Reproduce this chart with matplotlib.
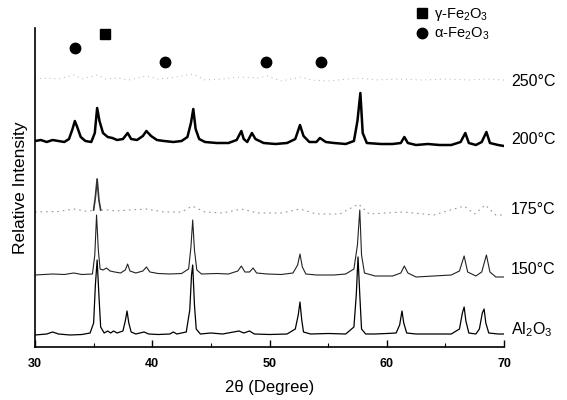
import matplotlib
matplotlib.use("Agg")
import matplotlib.pyplot as plt
from matplotlib.lines import Line2D
from matplotlib.ticker import MultipleLocator

plt.rcParams['font.family'] = ['Liberation Sans', 'DejaVu Sans']
plt.rcParams['mathtext.fontset'] = 'custom'
plt.rcParams['mathtext.rm'] = 'Liberation Sans'
plt.rcParams['mathtext.it'] = 'Liberation Sans:italic'

# ---- data (2theta in degrees, intensity in arb. units) ----
al2o3_x = [30.0, 31.0, 31.5, 32.0, 33.0, 34.0, 34.7, 35.0, 35.15, 35.3, 35.45, 35.6, 35.9,
           36.2, 36.45, 36.7, 37.0, 37.5, 37.7, 37.85, 38.0, 38.2, 38.6, 39.3, 39.7, 40.5,
           41.5, 41.8, 42.1, 42.9, 43.2, 43.35, 43.45, 43.6, 43.75, 44.1, 45.0, 46.0, 47.4,
           47.8, 48.3, 48.7, 50.0, 51.5, 52.2, 52.45, 52.6, 52.75, 52.9, 53.5, 55.0, 56.5,
           57.2, 57.4, 57.55, 57.7, 57.85, 58.2, 59.0, 60.0, 60.8, 61.1, 61.3, 61.45, 61.7,
           62.5, 64.0, 65.5, 66.2, 66.45, 66.6, 66.75, 67.0, 67.6, 67.9, 68.15, 68.3, 68.45,
           68.7, 69.5, 70.0]
al2o3_y = [0, 1, 3, 1, 0, 0.5, 2, 12, 50, 75, 40, 8, 2,
           4, 2, 4, 2, 4, 14, 24, 12, 3, 1, 3, 1, 0.5,
           1, 3, 1, 3, 25, 60, 70, 30, 6, 1, 2, 1, 4,
           2, 4, 1, 0.5, 1, 6, 20, 33, 15, 3, 1, 1.5, 1,
           8, 40, 78, 40, 6, 1, 1, 1.5, 2, 10, 24, 12, 2,
           1, 1, 1, 6, 22, 28, 14, 2, 1, 6, 22, 26, 12,
           2, 1, 1]

t150_x = [30.0, 31.5, 32.5, 33.3, 34.0, 34.9, 35.1, 35.25, 35.4, 35.55, 35.8, 36.1, 36.4,
          36.8, 37.3, 37.7, 37.9, 38.1, 38.6, 39.2, 39.5, 39.8, 40.5, 41.5, 42.5, 43.1,
          43.3, 43.45, 43.6, 43.8, 44.2, 45.5, 46.5, 47.3, 47.6, 47.9, 48.3, 48.6, 48.9,
          49.8, 51.0, 52.0, 52.4, 52.6, 52.8, 53.1, 54.0, 55.5, 56.5, 57.2, 57.5, 57.7,
          57.85, 58.1, 59.0, 60.5, 61.2, 61.5, 61.8, 62.5, 64.0, 65.5, 66.2, 66.6, 66.9,
          67.6, 68.1, 68.5, 68.8, 69.3, 70.0]
t150_y = [0, 1, 0.5, 2, 0.5, 1, 20, 60, 25, 6, 5, 7, 4,
          3, 2, 5, 11, 4, 2, 4, 8, 3, 1.5, 1, 1.5, 6,
          28, 55, 25, 5, 1, 1.5, 1, 4, 9, 3, 3, 7, 2,
          1, 0.5, 2, 10, 21, 8, 1, 0, 0, 1, 6, 30, 65,
          20, 2, -1, -1, 2, 9, 2, -2, -1, 0, 4, 19, 3,
          -1, 3, 20, 3, -2, -2]

t175_x = [30.0, 32.0, 33.3, 34.5, 35.0, 35.15, 35.3, 35.45, 35.6, 36.2, 37.0, 38.0, 39.5,
          41.0, 42.5, 43.4, 44.5, 46.0, 47.6, 49.0, 51.0, 52.6, 54.0, 56.0, 57.6, 58.5,
          61.4, 64.0, 66.6, 67.5, 68.4, 69.3, 70.0]
t175_y = [0, 0.5, 3, 0.5, 2, 15, 33, 12, 2, 2, 1, 2, 3,
          0, 0, 6, 0, -1, 3, -1, -1, 3, -2, -2, 8, -2,
          0, -3, 6, -2, 7, -3, -3]

t200_x = [30.0, 30.5, 31.0, 31.5, 32.0, 32.5, 32.9, 33.2, 33.4, 33.6, 33.9, 34.3, 34.8,
          35.1, 35.3, 35.5, 35.8, 36.2, 36.6, 37.0, 37.5, 37.9, 38.2, 38.7, 39.2, 39.5,
          39.9, 40.4, 41.0, 41.8, 42.5, 43.0, 43.3, 43.5, 43.7, 44.0, 44.5, 45.5, 46.5,
          47.2, 47.6, 47.8, 48.1, 48.5, 48.8, 49.5, 50.5, 51.5, 52.2, 52.6, 52.9, 53.4,
          54.0, 54.3, 54.8, 55.5, 56.5, 57.2, 57.5, 57.75, 57.95, 58.3, 59.5, 60.5, 61.2,
          61.5, 61.8, 62.5, 63.5, 64.5, 65.5, 66.3, 66.7, 67.0, 67.6, 68.1, 68.5, 68.8,
          69.5, 70.0]
t200_y = [0, 1, -1, 1, 0, -1, 2, 12, 20, 14, 4, 0, -1,
          8, 33, 20, 8, 4, 3, 1, 2, 8, 2, 1, 5, 10,
          5, 1, 0, -1, 0, 4, 18, 32, 12, 2, -1, -2, -2,
          1, 10, 2, -1, 8, 2, -2, -3, -2, 2, 16, 5, -1,
          -1, 3, -1, -2, -3, 0, 20, 48, 8, -2, -3, -3, -2,
          4, -2, -4, -3, -4, -4, -1, 8, -2, -4, -1, 9, -2,
          -4, -5]

t250_x = [30.0, 31.0, 32.0, 33.3, 34.0, 35.3, 36.0, 37.0, 38.0, 39.5, 40.5, 41.5, 43.5,
          44.5, 46.0, 47.5, 49.0, 49.8, 51.0, 52.7, 53.5, 55.0, 57.6, 59.0, 61.0, 63.0,
          65.0, 67.0, 68.5, 70.0]
t250_y = [0, 1, 0, 4, 0, 4, 0, 1, -1, 3, 0, 1, 5,
          -1, 0, 2, 1, 3, -2, 2, -1, -2, 1, -1, 0, -1,
          0, -1, 0, -1]

labels = ['Al$_2$O$_3$', '150°C', '175°C', '200°C', '250°C']
alpha_peaks = [33.4, 41.1, 49.7, 54.4]
gamma_peaks = [36.0]

# ---- figure ----
fig = plt.figure(figsize=(5.67, 4.0), dpi=100)
ax = fig.add_axes([35/567, 53/400, 469/567, 319/400])

ax.plot(al2o3_x, [v + 12 for v in al2o3_y], color='black', lw=0.9)
ax.plot(t150_x, [v + 72 for v in t150_y], color='#222222', lw=0.8)
ax.plot(t175_x, [v + 135 for v in t175_y], color='#999999', lw=0.8, ls=(0, (1.5, 3.5)))
# the strong 35 deg reflection of the 175 C pattern is printed solid
ax.plot(t175_x[4:9], [v + 135 for v in t175_y[4:9]], color='#333333', lw=1.2)
ax.plot(t200_x, [v + 206 for v in t200_y], color='black', lw=1.8)
ax.plot(t250_x, [v + 268 for v in t250_y], color='#b0b0b0', lw=0.7, ls=(0, (1, 4)))

# phase markers
ax.plot(alpha_peaks[:1], [299], 'o', color='black', ms=7.5)
ax.plot(alpha_peaks[1:], [285] * 3, 'o', color='black', ms=7.5)
ax.plot(gamma_peaks, [313], 's', color='black', ms=6.5)

# curve labels on the right
for lab, yy in zip(labels, [17, 78, 137, 207, 266]):
    ax.text(70.6, yy, lab, fontsize=11.5, va='center', ha='left', clip_on=False)

ax.set_xlim(30, 70)
ax.set_ylim(0, 319)
ax.xaxis.set_major_locator(MultipleLocator(10))
ax.xaxis.set_minor_locator(MultipleLocator(5))
ax.tick_params(axis='x', which='major', direction='in', length=5, width=1, labelsize=9, pad=8)
ax.tick_params(axis='x', which='minor', direction='in', length=3, width=0.8)
for t in ax.get_xticklabels():
    t.set_fontweight('bold')
ax.set_yticks([])
ax.spines['top'].set_visible(False)
ax.spines['right'].set_visible(False)
ax.spines['left'].set_linewidth(1.2)
ax.spines['bottom'].set_linewidth(1.2)

ax.set_xlabel('2θ (Degree)', fontsize=12, labelpad=7)
ax.set_ylabel('Relative Intensity', fontsize=12.5, labelpad=5)

handles = [Line2D([], [], marker='s', ls='none', color='black', ms=6.5),
           Line2D([], [], marker='o', ls='none', color='black', ms=7.5)]
ax.legend(handles, ['γ-Fe$_2$O$_3$', 'α-Fe$_2$O$_3$'], loc='upper left',
          bbox_to_anchor=(415/567, 1 - 5/400), bbox_transform=fig.transFigure,
          frameon=False, fontsize=10.5, handlelength=0.8, handletextpad=0.4,
          labelspacing=0.15, borderpad=0.1, borderaxespad=0)

fig.savefig('out.png', dpi=100)
